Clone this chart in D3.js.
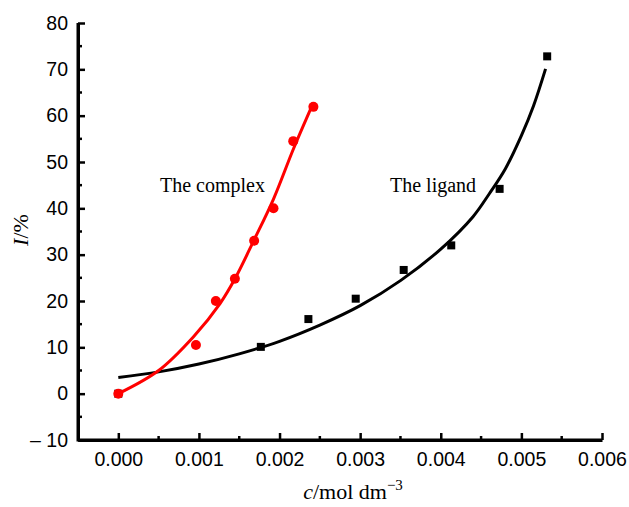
<!DOCTYPE html>
<html>
<head>
<meta charset="utf-8">
<script src="https://cdn.jsdelivr.net/npm/d3@7"></script>
<style>
  html, body { margin: 0; padding: 0; background: #fff; }
  svg { display: block; }
  .tick text { font-family: "Liberation Sans", Arial, sans-serif; font-size: 19.5px; fill: #000; }
  .lbl { font-family: "Liberation Serif", "Times New Roman", serif; fill: #000; }
</style>
</head>
<body>
<div id="chart"></div>
<script>
// measured points
const complexX = [0, 0.000963, 0.00121, 0.001446, 0.001685, 0.001925, 0.00217, 0.00242];
const complexY = [0, 10.5, 20.0, 24.8, 33.0, 40.0, 54.5, 61.9];
const ligandX = [0, 0.001768, 0.002358, 0.002945, 0.00354, 0.00413, 0.00473, 0.00532];
const ligandY = [0, 10.1, 16.1, 20.5, 26.7, 32.0, 44.2, 72.8];

// fitted curves
const complexFitX = [0, 0.0005, 0.000933, 0.001264, 0.00145, 0.001685, 0.001925, 0.002172, 0.0024];
const complexFitY = [0, 5.0, 12.3, 19.5, 24.9, 33.2, 42.0, 52.8, 62.0];
const ligandFitX = [0, 0.0005, 0.001, 0.0015, 0.002, 0.0025, 0.003, 0.0035, 0.004, 0.0044, 0.0046, 0.0048, 0.005, 0.00515, 0.0053];
const ligandFitY = [3.5, 4.7, 6.4, 8.6, 11.3, 14.8, 19.0, 24.4, 31.2, 38.2, 43.1, 48.5, 55.7, 62.1, 70.1];

const xTicks = [0, 0.001, 0.002, 0.003, 0.004, 0.005, 0.006];
const yTicks = [-10, 0, 10, 20, 30, 40, 50, 60, 70, 80];

const width = 629, height = 507;
const margin = {left: 78, right: 27, top: 23, bottom: 67};

const svg = d3.select("#chart").append("svg")
    .attr("width", width)
    .attr("height", height);

const x = d3.scaleLinear()
    .domain([-0.0005, 0.006])
    .range([margin.left, width - margin.right]);

const y = d3.scaleLinear()
    .domain([-10, 80])
    .range([height - margin.bottom, margin.top]);

// x axis
const xAxis = svg.append("g")
    .attr("transform", `translate(0, ${y(-10)})`);
xAxis.call(d3.axisBottom(x).tickValues(xTicks).tickFormat(d3.format(".3f")).tickSizeInner(-7).tickSizeOuter(0).tickPadding(12));
xAxis.selectAll(".tick line").attr("stroke-width", 2.5);
xAxis.select(".domain").attr("stroke-width", 3);
xAxis.selectAll(".minor").data(d3.range(0.0005, 0.006, 0.001)).enter()
    .append("line")
    .attr("x1", d => x(d)).attr("x2", d => x(d))
    .attr("y1", 0).attr("y2", -4)
    .attr("stroke", "#000").attr("stroke-width", 2.5);

// y axis
const yAxis = svg.append("g")
    .attr("transform", `translate(${x(-0.0005)}, 0)`);
yAxis.call(d3.axisLeft(y).tickValues(yTicks).tickFormat(d => d < 0 ? "\u2013 " + Math.abs(d) : d).tickSizeInner(-7).tickSizeOuter(0).tickPadding(10));
yAxis.selectAll(".tick line").attr("stroke-width", 2.5);
yAxis.select(".domain").attr("stroke-width", 3);
yAxis.selectAll(".minor").data(d3.range(-5, 80, 10)).enter()
    .append("line")
    .attr("y1", d => y(d)).attr("y2", d => y(d))
    .attr("x1", 0).attr("x2", 4)
    .attr("stroke", "#000").attr("stroke-width", 2.5);

// axis line corner
svg.append("path")
    .attr("d", `M${x(-0.0005)},${y(80)}V${y(-10)}H${x(0.006)}`)
    .attr("fill", "none").attr("stroke", "#000").attr("stroke-width", 3);

const line = d3.line()
    .x(d => x(d[0]))
    .y(d => y(d[1]))
    .curve(d3.curveCatmullRom.alpha(0.5));

svg.append("path")
    .datum(d3.zip(ligandFitX, ligandFitY))
    .attr("d", line)
    .attr("fill", "none").attr("stroke", "#000").attr("stroke-width", 3);

svg.selectAll("rect.lig")
    .data(d3.zip(ligandX, ligandY))
    .enter().append("rect")
    .attr("class", "lig")
    .attr("x", d => x(d[0]) - 4)
    .attr("y", d => y(d[1]) - 4)
    .attr("width", 8).attr("height", 8)
    .attr("fill", "#000");

svg.append("path")
    .datum(d3.zip(complexFitX, complexFitY))
    .attr("d", line)
    .attr("fill", "none").attr("stroke", "#ff0000").attr("stroke-width", 3);

svg.selectAll("circle.cpx")
    .data(d3.zip(complexX, complexY))
    .enter().append("circle")
    .attr("class", "cpx")
    .attr("cx", d => x(d[0]))
    .attr("cy", d => y(d[1]))
    .attr("r", 5)
    .attr("fill", "#ff0000");

// series labels
svg.append("text").attr("class", "lbl")
    .attr("x", 160).attr("y", 192)
    .attr("font-size", 20)
    .text("The complex");

svg.append("text").attr("class", "lbl")
    .attr("x", 390).attr("y", 192)
    .attr("font-size", 20)
    .text("The ligand");

// axis titles
const xt = svg.append("text").attr("class", "lbl")
    .attr("x", 353).attr("y", 499)
    .attr("text-anchor", "middle")
    .attr("font-size", 22);
xt.append("tspan").attr("font-style", "italic").text("c");
xt.append("tspan").text("/mol dm");
xt.append("tspan").attr("font-size", 15).attr("dy", -9).text("\u22123");

const yt = svg.append("text").attr("class", "lbl")
    .attr("transform", "translate(28, 230) rotate(-90)")
    .attr("text-anchor", "middle")
    .attr("font-size", 22);
yt.append("tspan").attr("font-style", "italic").text("I");
yt.append("tspan").text("/%");
</script>
</body>
</html>
